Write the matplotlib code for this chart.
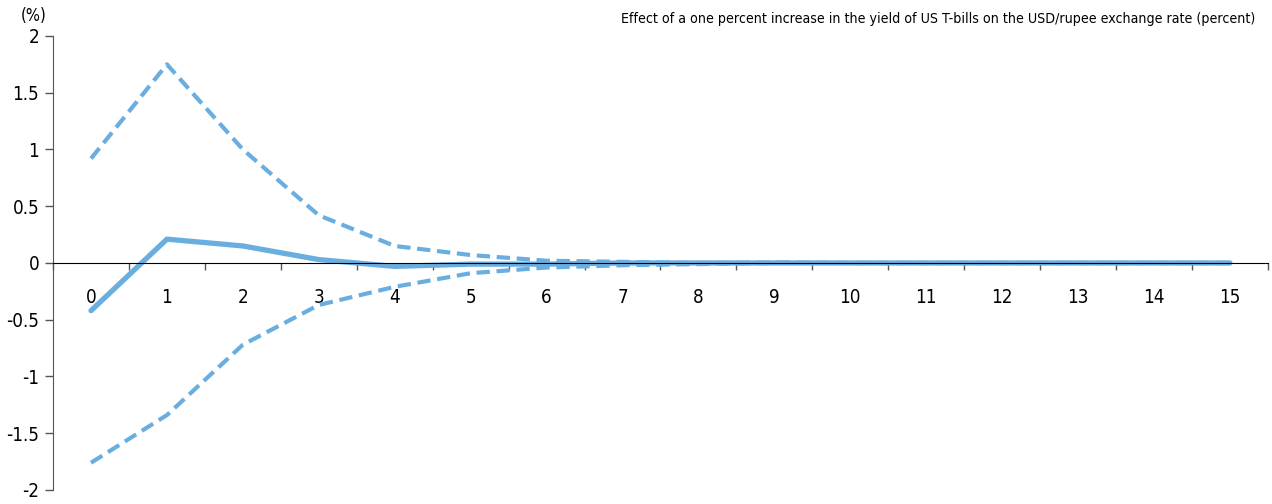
import matplotlib.pyplot as plt
import numpy as np

# Impulse response: one percent rise in US T-bill yield -> USD/rupee rate
periods = list(range(16))
response = [-0.42, 0.21, 0.15, 0.03, -0.03, -0.01, -0.01, 0.0, 0.0, 0.0, 0.0, 0.0, 0.0, 0.0, 0.0, 0.0]
upper_band = [0.92, 1.75, 1.0, 0.42, 0.15, 0.07, 0.02, 0.01, 0.0, 0.005, 0.0, 0.0, 0.0, 0.0, 0.0, 0.0]
lower_band = [-1.76, -1.34, -0.72, -0.37, -0.21, -0.09, -0.04, -0.02, -0.01, 0.0, 0.0, 0.0, 0.0, 0.0, 0.0, 0.0]
y_ticks = [-2, -1.5, -1, -0.5, 0, 0.5, 1, 1.5, 2]
y_labels = ["-2", "-1.5", "-1", "-0.5", "0", "0.5", "1", "1.5", "2"]

TITLE = "Effect of a one percent increase in the yield of US T-bills on the USD/rupee exchange rate (percent)"
BLUE = "#6aaee0"

plt.rcParams["font.family"] = ["DejaVu Sans"]
plt.rcParams["font.stretch"] = "condensed"

fig = plt.figure(figsize=(12.72, 5.04), dpi=100)
ax = fig.add_axes([0.0417, 0.0278, 0.9551, 0.9008])

x = np.array(periods)
ax.plot(x, upper_band, color=BLUE, lw=3.0, ls=(0, (3.2, 1.6)))
ax.plot(x, lower_band, color=BLUE, lw=3.0, ls=(0, (3.2, 1.6)))
ax.plot(x, response, color=BLUE, lw=3.8, solid_capstyle="round")

ax.set_xlim(-0.5, 15.5)
ax.set_ylim(-2, 2)

# y axis
ax.set_yticks(y_ticks)
ax.set_yticklabels(y_labels, fontsize=13.5)
ax.tick_params(axis="y", direction="out", length=6, width=1, color="#555555", pad=4)

# x axis sits on the zero line, ticks between categories, labels below
ax.spines["bottom"].set_position(("data", 0))
ax.spines["top"].set_visible(False)
ax.spines["right"].set_visible(False)
ax.spines["left"].set_color("#555555")
ax.set_xticks(np.arange(-0.5, 16, 1))
ax.set_xticklabels([])
ax.tick_params(axis="x", which="major", direction="out", length=5, width=1, color="#555555")
ax.set_xticks(x, minor=True)
ax.set_xticklabels([str(p) for p in periods], minor=True, fontsize=13.5)
ax.tick_params(axis="x", which="minor", length=0, pad=18)

fig.text(0.016, 0.968, "(%)", fontsize=12, ha="left", va="center")
fig.text(0.987, 0.962, TITLE, fontsize=10.2, ha="right", va="center")

fig.savefig("out.png", dpi=100)
